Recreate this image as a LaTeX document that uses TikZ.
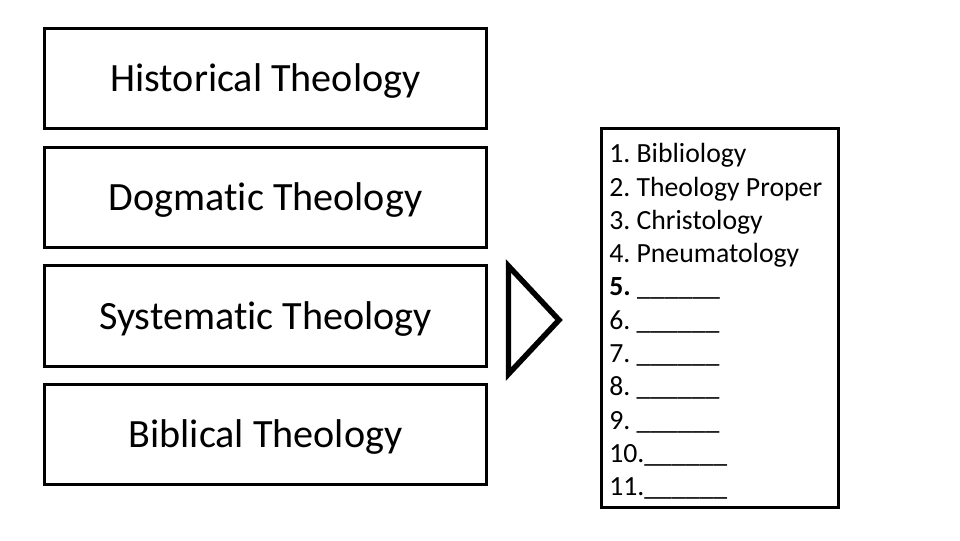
\documentclass[tikz,border=0pt]{standalone}
\usepackage{fontspec}
\setmainfont{Carlito}[Ligatures=NoCommon]
\usepackage{tikz}
\usetikzlibrary{positioning}
\newcommand{\topicblank}{\_\_\_\_\_\_}
\frenchspacing

\begin{document}
\begin{tikzpicture}[x=0.75pt, y=-0.75pt,
  theobox/.style={draw, line width=2.25pt, minimum width=331.8pt,
    minimum height=75.6pt, inner sep=0pt, text height=20pt, text depth=0pt,
    font=\fontsize{30.1}{36}\selectfont},
  topic/.style={anchor=base west, inner sep=0pt,
    font=\fontsize{20.8}{25}\selectfont}]
  \useasboundingbox (0,0) rectangle (960,540);

  %% --- Left column: the four kinds of theology ---
  \foreach \y/\nm/\lbl in {78.5/hist/Historical Theology,
                           197.5/dogm/Dogmatic Theology,
                           316/syst/Systematic Theology,
                           434.5/bibl/Biblical Theology} {
    \node[theobox] (\nm) at (265.5,\y) {\lbl};
  }

  %% open triangle pointing to the list
  \draw[line width=4.1pt, line join=miter]
    (508.5,266) -- (559,320) -- (508.5,374) -- cycle;

  %% --- Right column: list of topics ---
  \node[draw, line width=2.25pt, minimum width=177.75pt,
        minimum height=284.25pt] (topics) at (719.5,317.5) {};
  \foreach \i/\txt in {1/1. Bibliology, 2/2. Theology Proper,
                       3/3. Christology, 4/4. Pneumatology,
                       5/\textbf{5.} \topicblank, 6/6. \topicblank,
                       7/7. \topicblank, 8/8. \topicblank,
                       9/9. \topicblank, 10/10.\topicblank,
                       11/11.\topicblank} {
    \node[topic] (topic\i) at (609, 129.4+33.3*\i) {\txt};
  }
\end{tikzpicture}
\end{document}
